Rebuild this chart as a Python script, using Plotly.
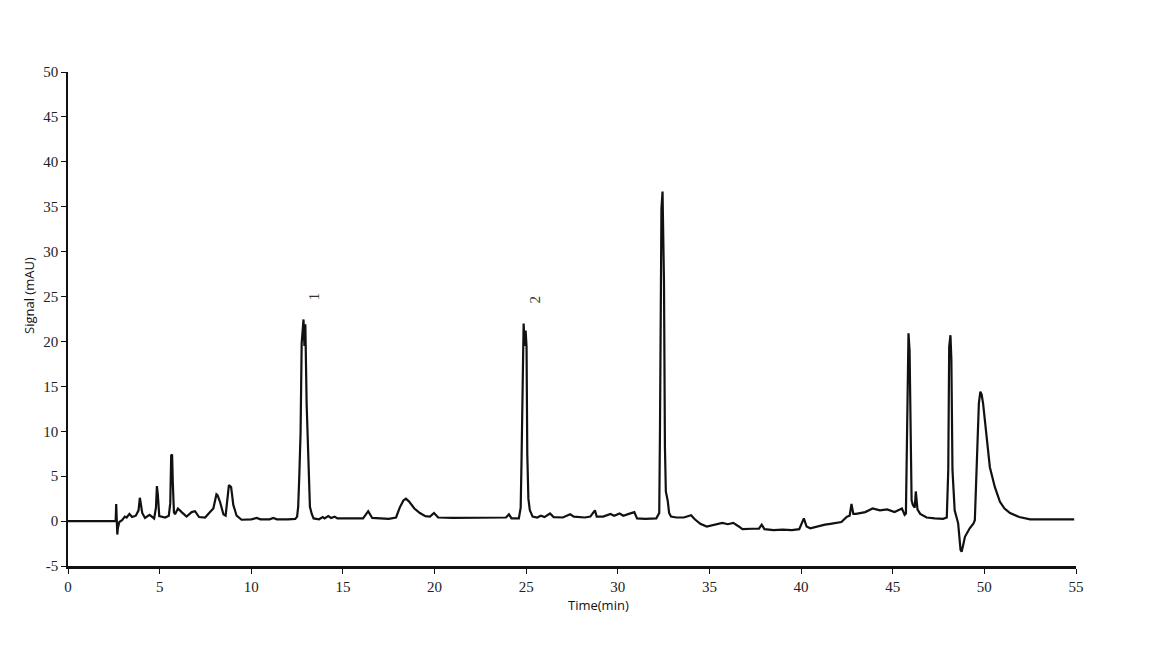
import plotly.graph_objects as go

# Chromatogram trace: retention time (min) and signal (mAU)
time_min = [
    0.0, 2.6, 2.63, 2.66, 2.69, 2.72, 2.8, 2.95, 3.1, 3.2, 3.35, 3.5, 3.7, 3.85, 3.92, 3.96,
    4.05, 4.2, 4.45, 4.7, 4.8, 4.85, 4.9, 4.98, 5.3, 5.5, 5.58, 5.63, 5.68, 5.72, 5.78, 5.84,
    6.0, 6.2, 6.47, 6.75, 6.93, 7.15, 7.48, 7.75, 7.93, 8.1, 8.16, 8.3, 8.48, 8.6, 8.72, 8.78,
    8.9, 9.02, 9.2, 9.47, 10.0, 10.3, 10.5, 11.0, 11.2, 11.4, 12.0, 12.4,
    12.5, 12.56, 12.62, 12.69, 12.75, 12.85, 12.9, 12.95, 13.02, 13.11, 13.2, 13.3, 13.4, 13.7,
    13.9, 14.0, 14.2, 14.35, 14.55, 14.7, 15.1, 15.5, 16.1, 16.38, 16.6, 17.5, 17.9, 18.1, 18.3,
    18.44, 18.6, 18.9, 19.2, 19.5, 19.75, 19.97, 20.2, 21.0, 22.0, 23.0, 23.9, 24.06, 24.2, 24.6,
    24.7, 24.75, 24.8, 24.86, 24.92, 24.97, 25.02, 25.06, 25.12, 25.2, 25.35, 25.6, 25.8, 26.0,
    26.3, 26.5, 27.0, 27.4, 27.6, 28.2, 28.5, 28.75, 28.85, 29.2, 29.6, 29.8, 30.1, 30.3, 30.6,
    30.9, 31.05, 31.5, 32.1,
    32.2, 32.26, 32.3, 32.33, 32.38, 32.44, 32.48, 32.52, 32.57, 32.62, 32.72, 32.8, 32.9, 33.2,
    33.6, 34.0, 34.2, 34.5, 34.85, 35.2, 35.7, 36.0, 36.3, 36.6, 36.8, 37.3, 37.7, 37.85, 38.0,
    38.5, 39.0, 39.5, 39.9, 40.15, 40.3, 40.5, 41.0, 41.3, 41.6, 41.9, 42.2, 42.5, 42.65, 42.75,
    42.85, 43.0, 43.5, 43.9, 44.3, 44.7, 45.1, 45.5, 45.65,
    45.72, 45.79, 45.86, 45.92, 45.97, 46.03, 46.1, 46.2, 46.26, 46.35, 46.5, 46.85, 47.3, 47.75,
    47.95, 48.03, 48.08, 48.15, 48.2, 48.26, 48.38, 48.57, 48.7, 48.76, 48.85, 48.94, 49.2, 49.4,
    49.48, 49.6, 49.7, 49.78, 49.85, 49.93, 50.12, 50.3, 50.57, 50.85, 51.1, 51.4, 51.9, 52.3,
    52.5, 54.9,
]
signal_mau = [
    0.0, 0.0, 1.9, 0.5, -1.5, -0.8, -0.1, 0.1, 0.5, 0.4, 0.8, 0.45, 0.6, 1.2, 2.6, 2.1,
    0.9, 0.35, 0.7, 0.3, 1.5, 3.9, 3.0, 0.55, 0.4, 0.6, 2.0, 7.3, 7.4, 4.2, 1.0, 0.75,
    1.4, 1.0, 0.5, 1.0, 1.1, 0.45, 0.4, 1.0, 1.4, 3.0, 2.9, 2.1, 0.75, 0.6, 2.5, 4.0,
    3.8, 1.8, 0.6, 0.15, 0.2, 0.35, 0.2, 0.2, 0.35, 0.2, 0.2, 0.25,
    0.5, 1.6, 5.0, 9.8, 19.8, 22.45, 19.5, 21.9, 13.1, 5.7, 1.6, 0.8, 0.3, 0.2,
    0.45, 0.3, 0.55, 0.35, 0.5, 0.3, 0.3, 0.25, 0.3, 1.1, 0.35, 0.25, 0.4, 1.5, 2.3,
    2.5, 2.2, 1.4, 0.9, 0.55, 0.5, 0.9, 0.4, 0.35, 0.35, 0.35, 0.4, 0.75, 0.3, 0.3,
    1.5, 7.2, 16.5, 22.0, 19.5, 21.2, 19.4, 7.5, 2.5, 1.2, 0.5, 0.4, 0.6, 0.45,
    0.85, 0.45, 0.4, 0.75, 0.5, 0.4, 0.5, 1.2, 0.5, 0.5, 0.8, 0.6, 0.85, 0.6, 0.8,
    1.0, 0.3, 0.25, 0.3,
    0.6, 0.9, 10.0, 19.4, 34.8, 36.7, 30.0, 26.5, 8.3, 3.3, 2.3, 0.9, 0.5, 0.4,
    0.4, 0.65, 0.2, -0.3, -0.6, -0.45, -0.2, -0.35, -0.2, -0.6, -0.9, -0.85, -0.85, -0.4, -0.9,
    -1.0, -0.95, -1.0, -0.9, 0.3, -0.6, -0.8, -0.5, -0.4, -0.3, -0.2, -0.1, 0.5, 0.6, 1.9,
    0.8, 0.8, 1.0, 1.4, 1.2, 1.3, 1.0, 1.4, 0.7,
    0.85, 11.6, 20.9, 19.0, 10.0, 2.3, 1.8, 1.5, 3.3, 1.3, 0.8, 0.4, 0.3, 0.25,
    0.4, 5.7, 19.4, 20.7, 18.0, 5.7, 1.2, -0.25, -3.2, -3.4, -2.6, -1.75, -0.8, -0.3,
    0.1, 7.5, 13.1, 14.4, 14.1, 13.1, 9.0, 6.0, 3.8, 2.15, 1.4, 0.9, 0.45, 0.25,
    0.2, 0.2,
]

# Peak labels
peak_labels = ["1", "2"]
peak_label_time = [13.4, 25.5]
peak_label_signal = [25.0, 24.7]

x_ticks = [0, 5, 10, 15, 20, 25, 30, 35, 40, 45, 50, 55]
y_ticks = [-5, 0, 5, 10, 15, 20, 25, 30, 35, 40, 45, 50]
y_tick_text = ["-5", "0", "5", "10", "15", "20", "25", "30", "35", "40", "45", "50"]

fig = go.Figure()
fig.add_trace(go.Scatter(
    x=time_min, y=signal_mau, mode="lines",
    line=dict(color="#111111", width=2.2),
    showlegend=False, hoverinfo="x+y",
))

for lab, tx, ty in zip(peak_labels, peak_label_time, peak_label_signal):
    fig.add_annotation(x=tx, y=ty, xref="x", yref="y", text=lab, showarrow=False,
                       textangle=-90, xanchor="center", yanchor="middle",
                       font=dict(family="Liberation Serif", size=15, color="#333333"))

fig.add_annotation(xref="paper", yref="paper", x=(598 - 68) / 1008, y=(566 - 605) / 494,
                   text="Time(min)", showarrow=False, xanchor="center", yanchor="middle",
                   font=dict(family="Open Sans", size=13, color="#111111"))
fig.add_annotation(xref="paper", yref="paper", x=(29 - 68) / 1008, y=(566 - 296) / 494,
                   text="Signal (mAU)", showarrow=False, textangle=-90,
                   xanchor="center", yanchor="middle",
                   font=dict(family="Open Sans", size=13, color="#111111"))

fig.update_layout(
    width=1151, height=644,
    margin=dict(l=60, r=83, t=64, b=86),
    paper_bgcolor="white", plot_bgcolor="white",
    xaxis=dict(range=[0, 55], tickvals=x_ticks, ticks="outside", ticklen=5, tickwidth=1,
               tickcolor="#111111", showline=True, linewidth=3, linecolor="#111111",
               showgrid=False, zeroline=False,
               tickfont=dict(family="Liberation Serif", size=15, color="#222222")),
    yaxis=dict(range=[-5, 50], tickvals=y_ticks, ticktext=y_tick_text, ticks="outside",
               ticklen=5, tickwidth=1,
               tickcolor="#111111", showline=True, linewidth=1.5, linecolor="#111111",
               showgrid=False, zeroline=False,
               tickfont=dict(family="Liberation Serif", size=15, color="#222222")),
)

fig.write_html("out.html")
